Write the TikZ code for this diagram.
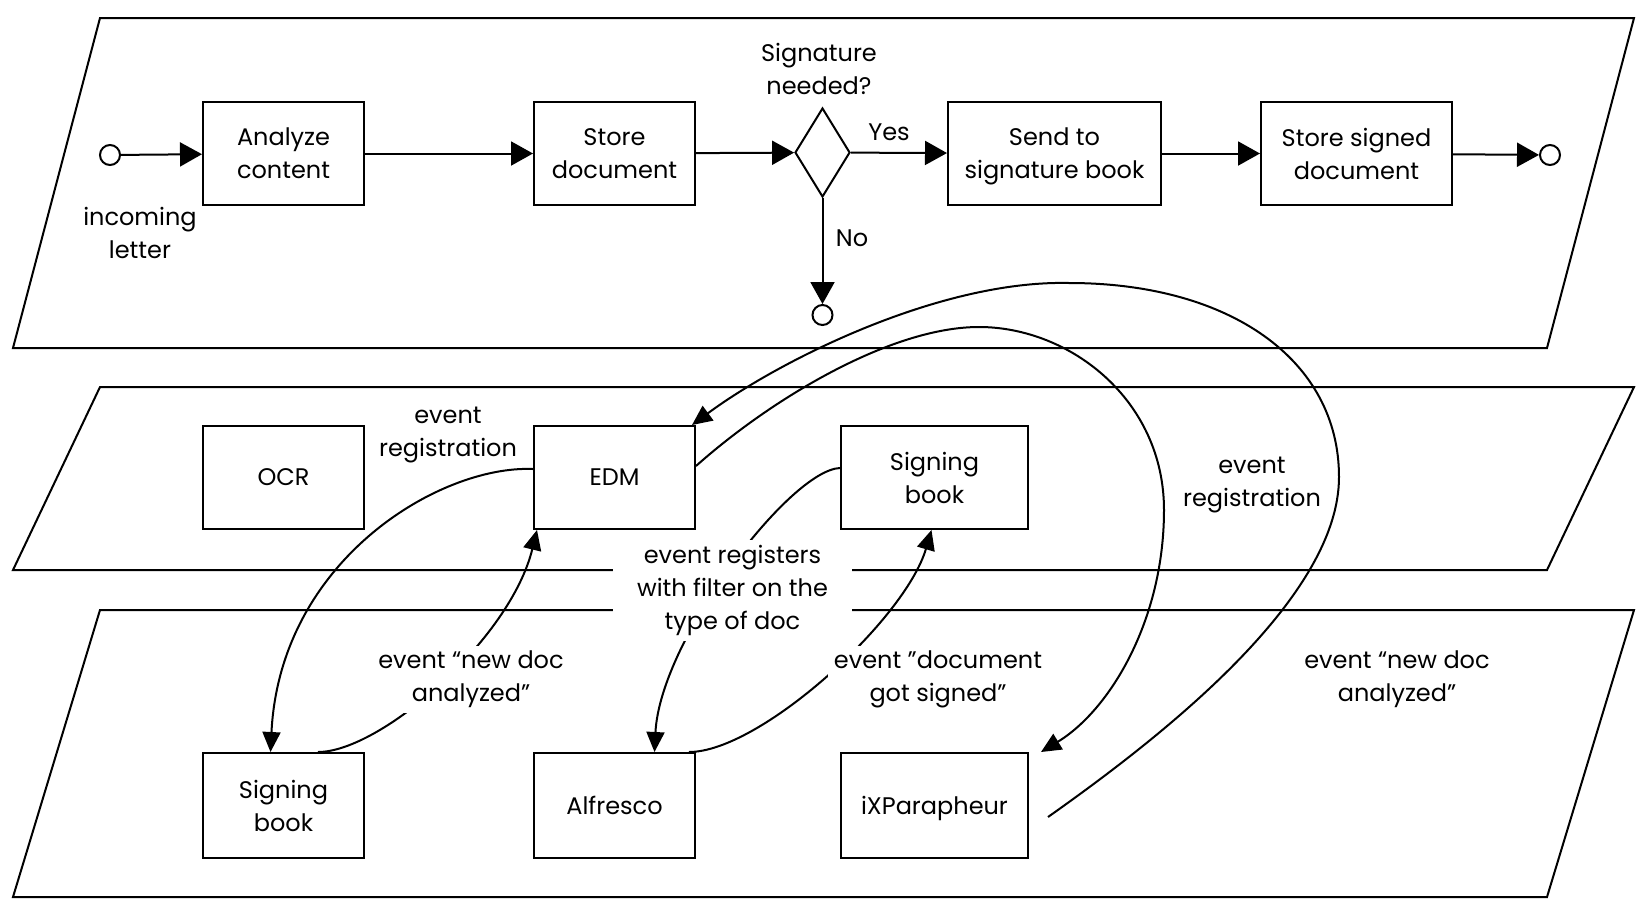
\documentclass[tikz,border=0pt]{standalone}
\usepackage{fontspec}
\setmainfont{Poppins}
\usetikzlibrary{arrows.meta,shapes.geometric}
\begin{document}
\begin{tikzpicture}[x=1pt,y=-1pt, line width=2pt,
  txt/.style={font=\fontsize{24}{33}\selectfont, align=center, inner sep=0pt, text depth=0pt},
  box/.style={draw, line width=2pt, inner sep=0pt, txt, minimum height=103pt},
  flow/.style={-{Triangle[length=22pt,width=24pt]}, line width=2pt},
  evt/.style={-{Triangle[length=20pt,width=18pt]}, line width=2pt},
  endpt/.style={circle, draw, line width=2pt, minimum size=20pt, inner sep=0pt},
  gaplbl/.style={txt, text depth=7pt, fill=white, inner xsep=6pt, inner ysep=5pt},
  lane/.style={draw, line width=2pt}]
\useasboundingbox (0,0) rectangle (1650,911);
% swimlanes
\draw[lane] (100,18) -- (1634,18) -- (1547,348) -- (13,348) -- cycle;
\draw[lane] (100,387) -- (1634,387) -- (1547,570) -- (13,570) -- cycle;
\draw[lane] (100,610) -- (1634,610) -- (1547,897) -- (13,897) -- cycle;

% top process
\node[endpt] (start) at (110,155) {};
\node[box, minimum width=161pt] (analyze) at (283.5,153.5) {Analyze\\content};
\node[box, minimum width=161pt] (store) at (614.5,153.5) {Store\\document};
\node[diamond, draw, line width=2pt, minimum width=55pt, minimum height=89pt, inner sep=0pt, aspect=0.62] (gate) at (822.5,152.5) {};
\node[box, minimum width=213pt] (send) at (1054.5,153.5) {Send to\\signature book};
\node[box, minimum width=191pt] (storesig) at (1356.5,153.5) {Store signed\\document};
\node[endpt] (end) at (1550,155) {};
\node[endpt] (endno) at (822.5,315) {};

\node[txt] (incoming) at (140,233) {incoming\\letter};
\node[txt] (question) at (819,69) {Signature\\needed?};
\node[txt] (yes) at (889,132) {Yes};
\node[txt] (no) at (852,238) {No};

\draw[flow] (start) -- (analyze);
\draw[flow] (analyze) -- (store);
\draw[flow] (store) -- (gate);
\draw[flow] (gate) -- (send);
\draw[flow] (send) -- (storesig);
\draw[flow] (storesig) -- (end);
\draw[flow] (gate) -- (endno);

% middle lane
\node[box, minimum width=161pt] (ocr) at (283.5,477.5) {OCR};
\node[box, minimum width=161pt] (edm) at (614.5,477.5) {EDM};
\node[box, minimum width=187pt] (sbm) at (934.5,477.5) {Signing\\book};

% bottom lane
\node[box, minimum width=161pt, minimum height=105pt] (sbb) at (283.5,805.5) {Signing\\book};
\node[box, minimum width=161pt, minimum height=105pt] (alf) at (614.5,805.5) {Alfresco};
\node[box, minimum width=187pt, minimum height=105pt] (ixp) at (934.5,805.5) {iXParapheur};

% event connectors
\draw[evt] ([yshift=8.5pt]edm.west) .. controls (440,465) and (280,560) .. ([xshift=-13pt]sbb.north);
\draw[evt] ([xshift=34.5pt]sbb.north) .. controls (380,752) and (510,640) .. ([xshift=4pt]edm.south west);
\draw[evt] ([xshift=-7pt]alf.north east) .. controls (760,752) and (905,620) .. ([xshift=-3pt]sbm.south);
\draw[evt] ([yshift=9.5pt]sbm.west) .. controls (790,470) and (660,640) .. ([xshift=40pt]alf.north);
\coordinate (o1) at (1339,477);
\coordinate (o2) at (1069,283);
\draw[evt] ([xshift=19pt,yshift=-11.5pt]ixp.east) .. controls (1157,740) and (1339,600) .. (o1)
  .. controls (1339,360) and (1230,283) .. (o2)
  .. controls (940,280) and (780,360) .. ([xshift=-4pt]edm.north east);
\coordinate (i1) at (979,327);
\coordinate (i2) at (1164,510);
\draw[evt] ([yshift=11.5pt]edm.east) .. controls (770,400) and (890,327) .. (i1)
  .. controls (1070,327) and (1164,400) .. (i2)
  .. controls (1164,620) and (1110,710) .. ([xshift=12pt]ixp.north east);

% labels
\node[txt] (reg1) at (448,432) {event\\registration};
\node[txt] (reg2) at (1252,482) {event\\registration};
\node[gaplbl, minimum width=239pt] (filter) at (732.5,590.5) {event registers\\with filter on the\\type of doc};
\node[gaplbl] (newdoc1) at (471,679.5) {event “new doc\\analyzed”};
\node[gaplbl] (signed) at (938,679.5) {event ”document\\got signed”};
\node[txt] (newdoc2) at (1397,676) {event “new doc\\analyzed”};
\end{tikzpicture}
\end{document}
